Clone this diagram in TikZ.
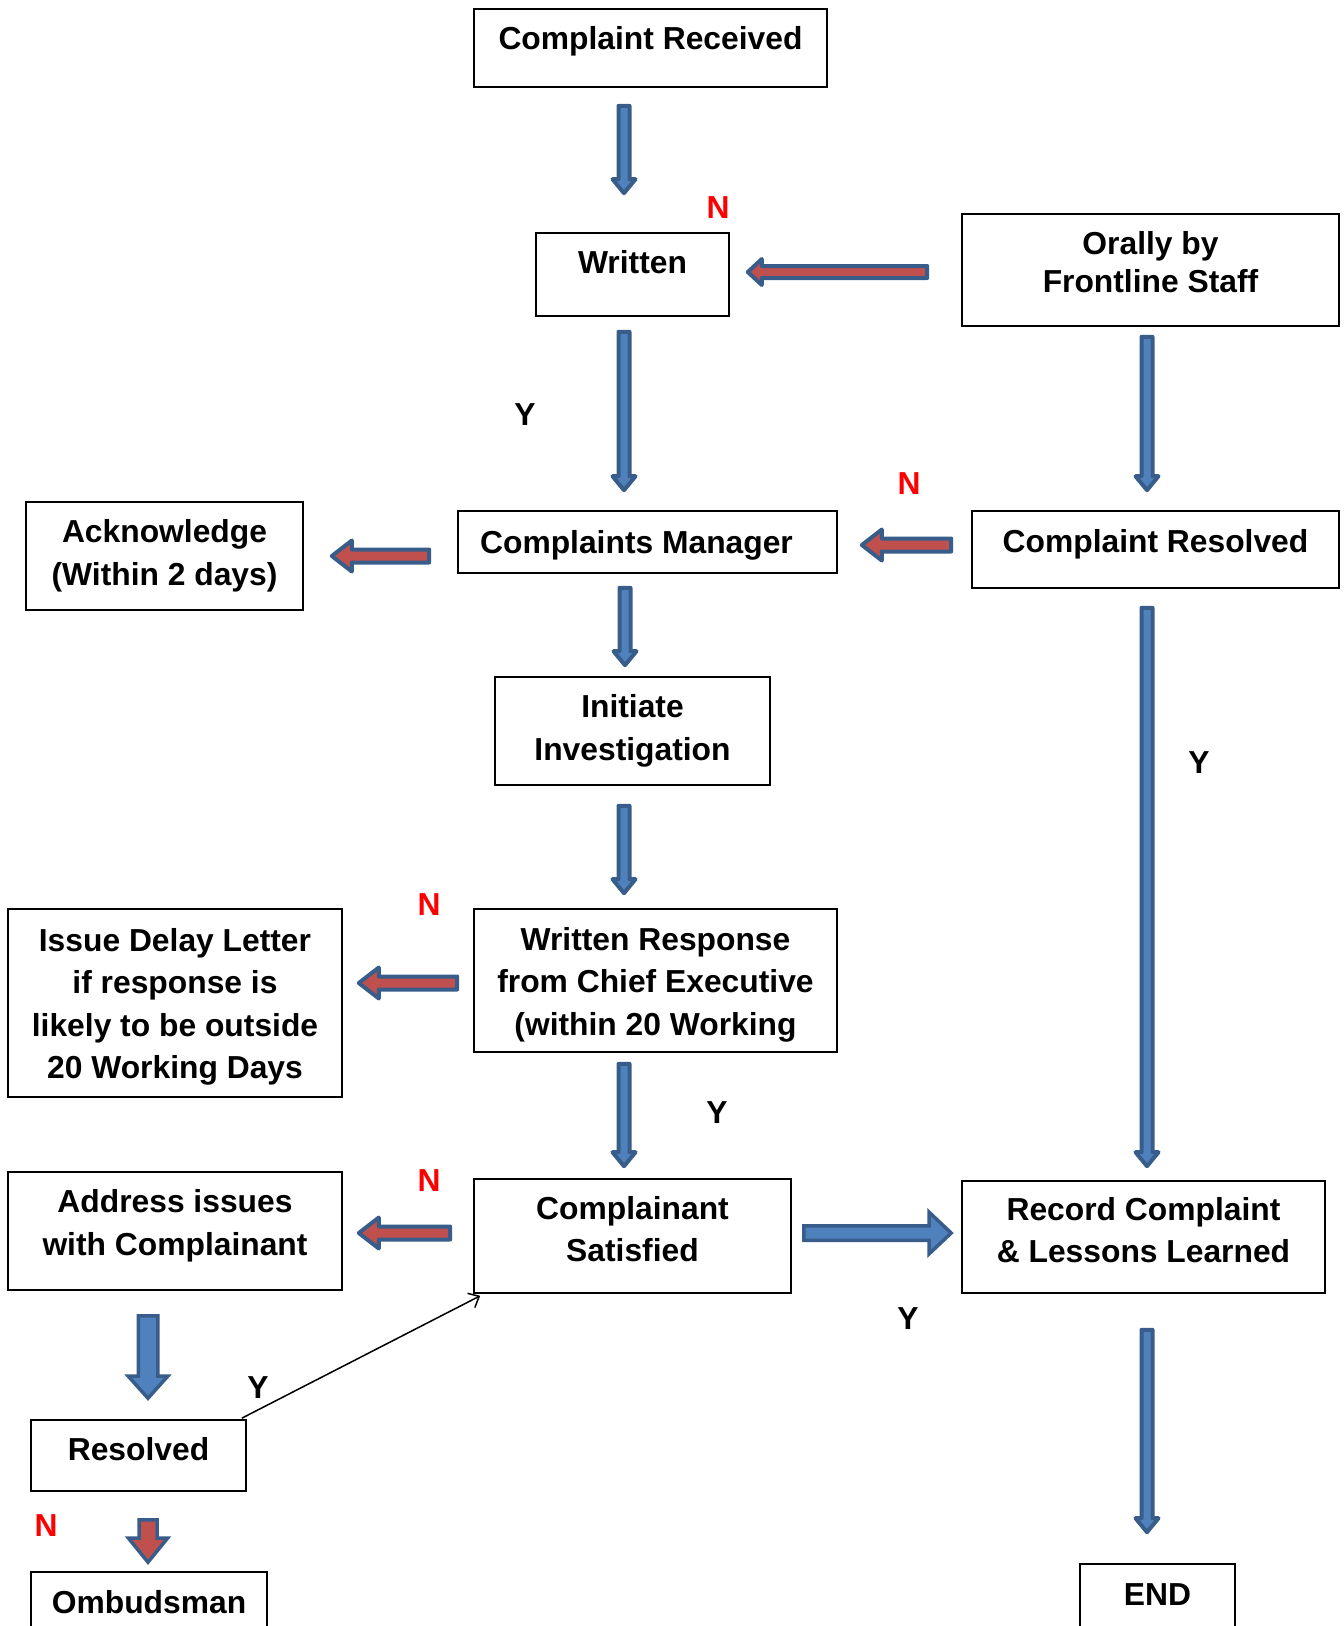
\documentclass[tikz,border=0pt]{standalone}
\usepackage{fontspec}
\setmainfont{Liberation Sans}
\usetikzlibrary{calc,arrows.meta}

\definecolor{arrowblue}{HTML}{4F81BD}
\definecolor{arrowedge}{HTML}{385D8A}
\definecolor{arrowred}{HTML}{C0504D}

\newcommand{\flowfont}{\bfseries\fontsize{31.8}{42.5}\selectfont}

% block arrow: style, tail, tip, half shaft, half head, head length
\newcommand{\blockarrow}[6]{%
  \coordinate (ba-s) at #2;
  \coordinate (ba-e) at #3;
  \coordinate (ba-h) at ($(ba-e)!#6!(ba-s)$);
  \draw[#1] ($(ba-s)!#4!90:(ba-e)$) -- ($(ba-h)!#4!90:(ba-e)$)
    -- ($(ba-h)!#5!90:(ba-e)$) -- (ba-e) -- ($(ba-h)!#5!-90:(ba-e)$)
    -- ($(ba-h)!#4!-90:(ba-e)$) -- ($(ba-s)!#4!-90:(ba-e)$) -- cycle;
}
\newcommand{\thinarrow}[2]{\blockarrow{thinblue}{#1}{#2}{5.5pt}{11.5pt}{14pt}}
\newcommand{\longred}[2]{\blockarrow{redarrow}{#1}{#2}{6pt}{13pt}{14pt}}
\newcommand{\shortred}[2]{\blockarrow{redarrow}{#1}{#2}{6.5pt}{15.5pt}{20pt}}
\newcommand{\fatarrow}[2]{\blockarrow{fatblue}{#1}{#2}{7.25pt}{20.75pt}{22pt}}

\tikzset{
  box/.style={draw, line width=1.6pt, align=center, font=\flowfont, inner sep=0pt},
  yes/.style={font=\flowfont, inner sep=0pt},
  no/.style={yes, text=red},
  thinblue/.style={fill=arrowblue, draw=arrowedge, line width=4pt, line join=round},
  redarrow/.style={fill=arrowred, draw=arrowedge, line width=4pt, line join=round},
  fatblue/.style={fill=arrowblue, draw=arrowedge, line width=3.5pt, line join=miter},
}

\begin{document}
\begin{tikzpicture}[x=1pt,y=-1pt]
\useasboundingbox (0,0) rectangle (1344,1626);
\clip (0,0) rectangle (1344,1626);

% boxes
\node[box, minimum width=353pt, minimum height=78pt, text height=23pt, text depth=20.2pt] (received) at (650.5,48) {Complaint Received};
\node[box, minimum width=193pt, minimum height=83pt, text height=23pt, text depth=24.2pt] (written) at (632.5,274.5) {Written};
\node[box, minimum width=377pt, minimum height=112pt] (orally) at (1150.5,270) {Orally by\\[-5pt]Frontline Staff\\[-26pt]};
\node[box, minimum width=277pt, minimum height=108pt] (acknowledge) at (164.5,556) {Acknowledge\\(Within 2 days)};
\node[box, minimum width=379pt, minimum height=62pt, text height=23pt, text depth=0.2pt] (manager) at (647.5,542) {Complaints Manager\hspace{22pt}};
\node[box, minimum width=367pt, minimum height=77pt, text height=23pt, text depth=16.2pt] (resolvedq) at (1155.5,549.5) {Complaint Resolved};
\node[box, minimum width=275pt, minimum height=108pt] (initiate) at (632.5,731) {Initiate\\Investigation};
\node[box, minimum width=334pt, minimum height=188pt] (delay) at (175,1003) {\rule{0pt}{31pt}Issue Delay Letter\\if response is\\likely to be outside\\20 Working Days};
\node[box, minimum width=363pt, minimum height=143pt] (response) at (655.5,980.5) {\rule{0pt}{31pt}Written Response\\from Chief Executive\\(within 20 Working};
\node[box, minimum width=334pt, minimum height=118pt] (address) at (175,1231) {Address issues\\with Complainant\\[-25pt]};
\node[box, minimum width=317pt, minimum height=114pt] (satisfied) at (632.5,1236) {Complainant\\Satisfied\\[-28pt]};
\node[box, minimum width=363pt, minimum height=112pt] (record) at (1143.5,1237) {Record Complaint\\\& Lessons Learned\\[-28pt]};
\node[box, minimum width=215pt, minimum height=71pt, text height=23pt, text depth=12.2pt] (resolved) at (138.5,1455.5) {Resolved};
\node[box, minimum width=236pt, minimum height=80pt, text height=23pt, text depth=20.2pt] (ombudsman) at (149,1612) {Ombudsman};
\node[box, minimum width=155pt, minimum height=80pt, text height=23pt, text depth=20.2pt] (finish) at (1157.5,1604) {END};

% block arrows
\thinarrow{([xshift=-26.5pt,yshift=-18pt]received.south)}{([xshift=-8.5pt,yshift=39pt]written.north)}
\longred{([xshift=-34pt,yshift=-2pt]orally.west)}{([xshift=18pt,yshift=2.5pt]written.east)}
\thinarrow{([xshift=-8.5pt,yshift=-15pt]written.south)}{([xshift=-23.5pt,yshift=20pt]manager.north)}
\thinarrow{([xshift=-3.5pt,yshift=-10pt]orally.south)}{([xshift=-8.5pt,yshift=20pt]resolvedq.north)}
\shortred{([xshift=-28pt,yshift=-14pt]manager.west)}{([xshift=28pt]acknowledge.east)}
\shortred{([xshift=-20pt,yshift=4.5pt]resolvedq.west)}{([xshift=24pt,yshift=-3pt]manager.east)}
\thinarrow{([xshift=-22.5pt,yshift=-14pt]manager.south)}{([xshift=-7.5pt,yshift=11pt]initiate.north)}
\thinarrow{([xshift=-8.5pt,yshift=-19pt]resolvedq.south)}{([xshift=3.5pt,yshift=14pt]record.north)}
\thinarrow{([xshift=-8.5pt,yshift=-20pt]initiate.south)}{([xshift=-31.5pt,yshift=15pt]response.north)}
\shortred{([xshift=-16pt,yshift=-2.5pt]response.west)}{([xshift=16pt,yshift=20pt]delay.east)}
\thinarrow{([xshift=-31.5pt,yshift=-11pt]response.south)}{([xshift=-8.5pt,yshift=12pt]satisfied.north)}
\shortred{([xshift=-23pt,yshift=3pt]satisfied.west)}{([xshift=16pt,yshift=-2pt]address.east)}
\fatarrow{([xshift=12pt,yshift=3pt]satisfied.east)}{([xshift=-10pt,yshift=4pt]record.west)}
\blockarrow{fatblue}{([xshift=-27pt,yshift=-25pt]address.south)}{([xshift=9.5pt,yshift=21pt]resolved.north)}{9.75pt}{19.75pt}{22pt}
\blockarrow{redarrow, line join=miter, line width=3.5pt}{([xshift=9.5pt,yshift=-28pt]resolved.south)}{([xshift=-1pt,yshift=9pt]ombudsman.north)}{9pt}{19.5pt}{24pt}
\thinarrow{([xshift=3.5pt,yshift=-36pt]record.south)}{([xshift=-10.5pt,yshift=31pt]finish.north)}

% plain connector
\draw[line width=1.5pt, -{Straight Barb[length=9pt,width=16pt]}] ([xshift=-5pt,yshift=1pt]resolved.north east) -- ([xshift=7pt,yshift=-2pt]satisfied.south west);

% Y / N labels
\node[no] (n-written) at (718,208) {N};
\node[yes] (y-written) at (525,415) {Y};
\node[no] (n-resolvedq) at (909,484) {N};
\node[yes] (y-resolvedq) at (1199,763) {Y};
\node[no] (n-response) at (429,905) {N};
\node[yes] (y-response) at (717,1113) {Y};
\node[no] (n-satisfied) at (429,1181) {N};
\node[yes] (y-satisfied) at (908,1319) {Y};
\node[yes] (y-resolved) at (258,1388) {Y};
\node[no] (n-resolved) at (46,1526) {N};
\end{tikzpicture}
\end{document}
